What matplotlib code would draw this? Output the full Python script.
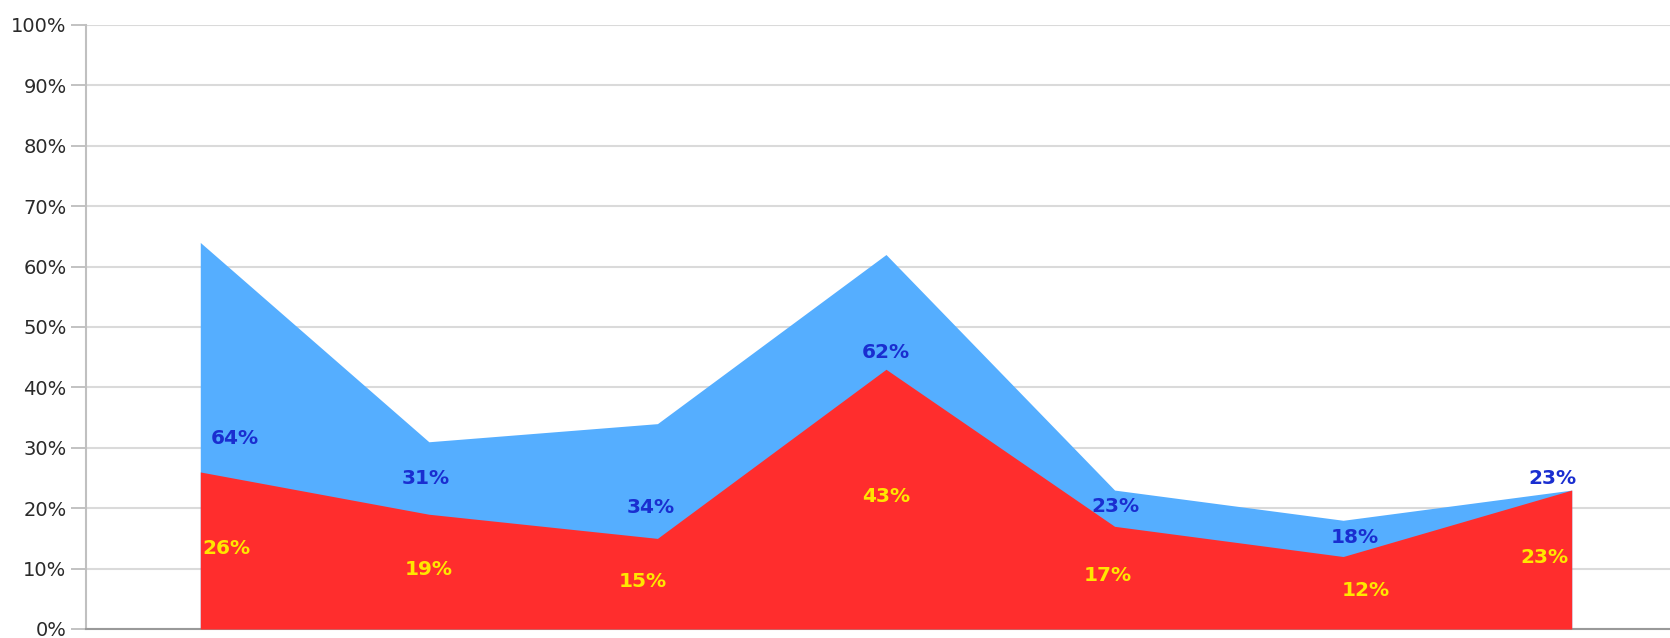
import matplotlib.pyplot as plt

# values (percent)
blue_values = [64, 31, 34, 62, 23, 18, 23]
red_values = [26, 19, 15, 43, 17, 12, 23]
y_ticks = [0, 10, 20, 30, 40, 50, 60, 70, 80, 90, 100]

# label placement (pixel offsets), kept apart from the data
blue_dx = [35, -3, -7, 0, 1, 12, -19]
blue_dy = [33, 36, 31, 17, 20, 19, 12]  # above the red line
red_dx = [26, 0, -15, 0, -7, 23, -27]

blue_fill = "#55aeff"
red_fill = "#ff2d2d"
blue_text = "#1a2ed0"
yellow_text = "#ffe600"

fig = plt.figure(figsize=(16.7, 6.38), dpi=100)
ax = fig.add_axes([86 / 1670, 1 - 629 / 638, 1 - 86 / 1670, (629 - 25) / 638])

x = list(range(len(blue_values)))
ax.fill_between(x, blue_values, 0, color=blue_fill, linewidth=0, zorder=2)
ax.fill_between(x, red_values, 0, color=red_fill, linewidth=0, zorder=3)

for i in x:
    ax.annotate(f"{blue_values[i]}%", (i, red_values[i]),
                xytext=(blue_dx[i], blue_dy[i]), textcoords="offset pixels",
                ha="center", va="center", color=blue_text,
                fontsize=14.5, fontweight="bold", zorder=5)
    ax.annotate(f"{red_values[i]}%", (i, red_values[i] / 2 + 0.4),
                xytext=(red_dx[i], 0), textcoords="offset pixels",
                ha="center", va="center", color=yellow_text,
                fontsize=14.5, fontweight="bold", zorder=5)

ax.set_xlim(-0.5, 6.43)
ax.set_ylim(0, 100)
ax.set_yticks(y_ticks)
ax.set_yticklabels([f"{t}%" for t in y_ticks])
ax.set_xticks([])
ax.grid(axis="y", color="#dadada", linewidth=1.5, zorder=1)
ax.set_axisbelow(True)
ax.tick_params(axis="y", length=11, width=1.2, color="#b8b8b8",
               labelsize=14, labelcolor="#2a2a2a", pad=3)
for side in ["top", "right"]:
    ax.spines[side].set_visible(False)
ax.spines["left"].set_color("#c0c0c0")
ax.spines["left"].set_linewidth(1.5)
ax.spines["bottom"].set_color("#999999")
ax.spines["bottom"].set_linewidth(1.5)

plt.savefig("out.png", dpi=100)
